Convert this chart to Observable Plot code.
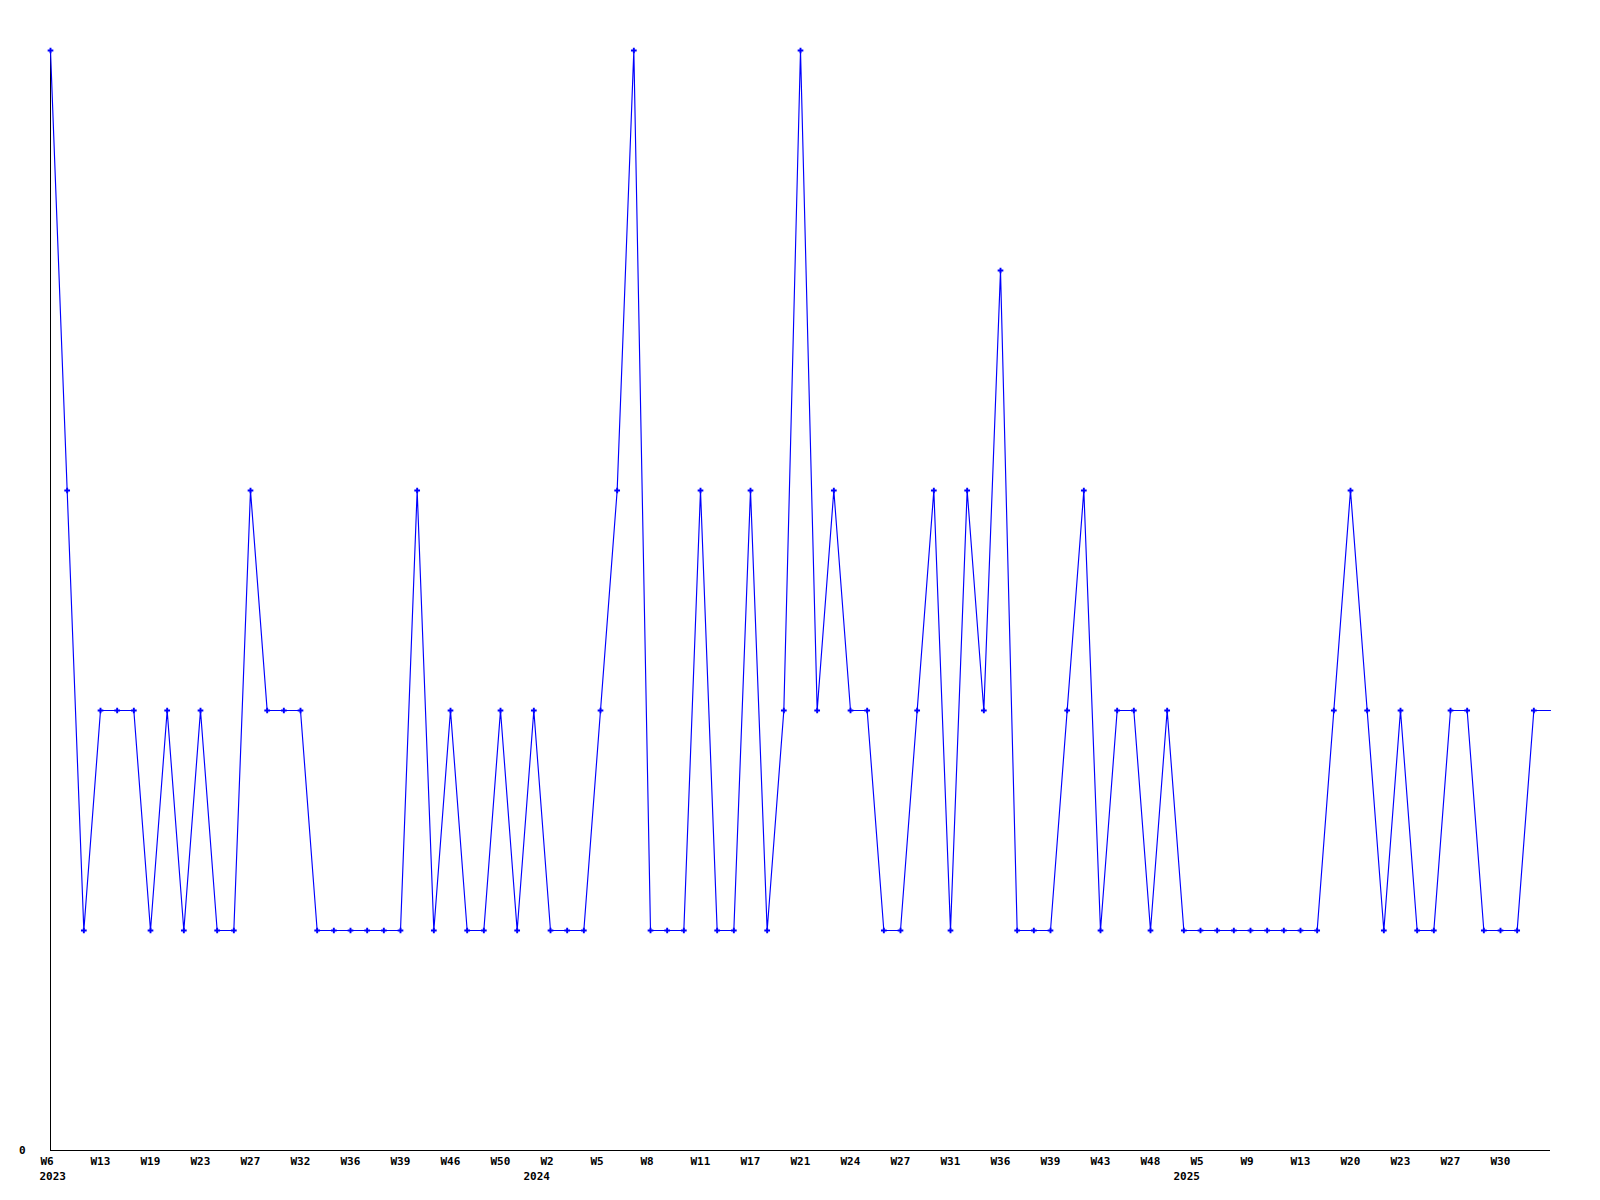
<!DOCTYPE html>
<html>
<head>
<meta charset="utf-8">
<script src="https://cdn.jsdelivr.net/npm/d3@7"></script>
<script src="https://cdn.jsdelivr.net/npm/@observablehq/plot@0.6"></script>
<style>
  html, body { margin: 0; padding: 0; background: #fff; }
  #chart svg { display: block; }
</style>
</head>
<body>
<div id="chart"></div>
<script>
// Weekly counts (one point per reported week, in order)
const values = [
  5, 3, 1, 2, 2, 2, 1, 2, 1, 2,
  1, 1, 3, 2, 2, 2, 1, 1, 1, 1,
  1, 1, 3, 1, 2, 1, 1, 2, 1, 2,
  1, 1, 1, 2, 3, 5, 1, 1, 1, 3,
  1, 1, 3, 1, 2, 5, 2, 3, 2, 2,
  1, 1, 2, 3, 1, 3, 2, 4, 1, 1,
  1, 2, 3, 1, 2, 2, 1, 2, 1, 1,
  1, 1, 1, 1, 1, 1, 1, 2, 3, 2,
  1, 2, 1, 1, 2, 2, 1, 1, 1, 2,
  2
];

// Week tick labels (every third point)
const weekTicks = [
  "W6", "W13", "W19", "W23", "W27", "W32", "W36", "W39", "W46", "W50",
  "W2", "W5", "W8", "W11", "W17", "W21", "W24", "W27", "W31", "W36",
  "W39", "W43", "W48", "W5", "W9", "W13", "W20", "W23", "W27", "W30"
];
const tickStep = 3;

// Year labels and the point index they sit under
const years = ["2023", "2024", "2025"];
const yearIndex = [0, 30, 69];

const yTicks = [0];

const data = values.map((v, i) => ({i, v}));
const weekData = weekTicks.map((label, k) => ({i: k * tickStep, label}));
const yearData = years.map((label, k) => ({i: yearIndex[k], label}));

const font = {fontFamily: "'DejaVu Sans Mono', monospace", fontWeight: "bold", fontSize: 11, fill: "black"};

const chart = Plot.plot({
  width: 1600,
  height: 1200,
  marginTop: 50,
  marginBottom: 50,
  marginLeft: 50,
  marginRight: 50,
  x: {type: "linear", domain: [0, values.length - 1], axis: null},
  y: {domain: [0, 5], axis: null},
  style: {background: "white", color: "black"},
  marks: [
    Plot.ruleX([0], {stroke: "black", strokeWidth: 1}),
    Plot.ruleY([0], {stroke: "black", strokeWidth: 1}),
    Plot.line(data, {x: "i", y: "v", stroke: "#0000ff", strokeWidth: 1.15}),
    Plot.dot(data.slice(0, -1), {x: "i", y: "v", symbol: "cross", fill: "#0000ff", stroke: "none", r: 2.4}),
    Plot.text(weekData, {x: "i", y: () => 0, text: "label", textAnchor: "start", dx: -10, dy: 11, ...font}),
    Plot.text(yearData.slice(0, 1), {x: "i", y: () => 0, text: "label", textAnchor: "start", dx: -11, dy: 26, ...font}),
    Plot.text(yearData.slice(1), {x: "i", y: () => 0, text: "label", textAnchor: "start", dx: -27, dy: 26, ...font}),
    Plot.text(yTicks, {x: () => 0, y: d => d, text: d => String(d), textAnchor: "end", dx: -25, ...font})
  ]
});

document.getElementById("chart").appendChild(chart);
</script>
</body>
</html>
